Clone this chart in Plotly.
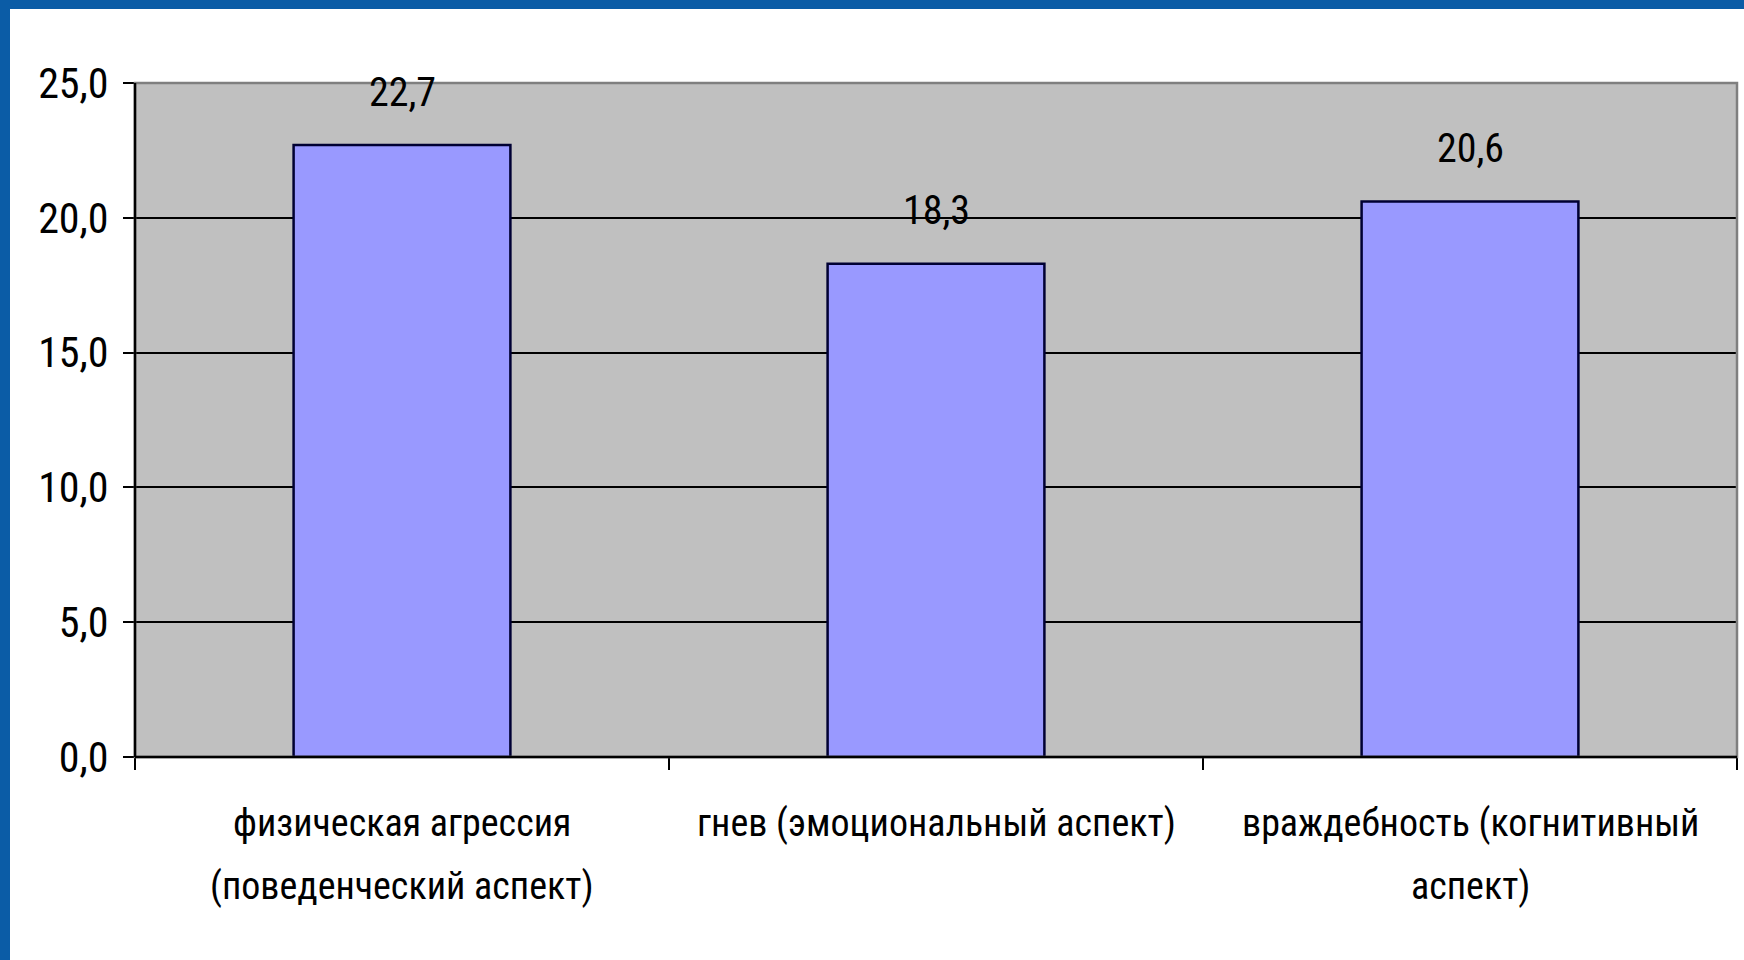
import plotly.graph_objects as go

categories = [
    "физическая агрессия\n(поведенческий аспект)",
    "гнев (эмоциональный аспект)",
    "враждебность (когнитивный\nаспект)",
]
values = [22.7, 18.3, 20.6]
value_labels = ["22,7", "18,3", "20,6"]
y_tickvals = [0, 5, 10, 15, 20, 25]
y_ticktext = ["0,0", "5,0", "10,0", "15,0", "20,0", "25,0"]

FONT = "Liberation Sans Narrow, Arial Narrow, Roboto Condensed, DejaVu Sans Condensed, sans-serif"
FS = 40

fig = go.Figure()
fig.add_trace(go.Bar(
    x=categories,
    y=values,
    marker=dict(color="#9999FF", line=dict(color="#000033", width=2.5)),
    hoverinfo="skip",
))

for c, v, t in zip(categories, values, value_labels):
    fig.add_annotation(x=c, y=v, text=t, showarrow=False, yanchor="middle",
                       yshift=53, font=dict(family=FONT, size=FS, color="#000000"))

# category labels, one annotation per line (wider line spacing as in the source)
for c in categories:
    for i, line in enumerate(c.split("\n")):
        fig.add_annotation(x=c, xref="x", y=0, yref="paper", text=line, showarrow=False,
                           yanchor="middle", yshift=-66 - 63 * i,
                           font=dict(family=FONT, size=38, color="#000000"))

W, H = 1744, 960
L, R, T, B = 135, 7, 83, 203
pw, ph = W - L - R, H - T - B

# plot-area border (grey) and axes (black)
fig.add_shape(type="rect", xref="paper", yref="paper", x0=0, x1=1, y0=0, y1=1,
              line=dict(color="#7F7F7F", width=2.5), layer="above")
fig.add_shape(type="line", xref="paper", yref="paper", x0=0, x1=0, y0=0, y1=1,
              line=dict(color="#000000", width=2.5), layer="above")
fig.add_shape(type="line", xref="paper", yref="paper", x0=0, x1=1, y0=0, y1=0,
              line=dict(color="#000000", width=2.5), layer="above")
# slide frame (blue) on top and left
fig.add_shape(type="rect", xref="paper", yref="paper",
              x0=-(L + 5) / pw, x1=(W - L + 5) / pw, y0=1 + (T - 9) / ph, y1=1 + (T + 5) / ph,
              fillcolor="#0B5CA6", line=dict(width=0), layer="below")
fig.add_shape(type="rect", xref="paper", yref="paper",
              x0=-(L + 5) / pw, x1=(10 - L) / pw, y0=-(B + 5) / ph, y1=1 + (T + 5) / ph,
              fillcolor="#0B5CA6", line=dict(width=0), layer="below")

fig.update_layout(
    width=W, height=H,
    margin=dict(l=L, r=R, t=T, b=B, autoexpand=False),
    paper_bgcolor="#FFFFFF",
    plot_bgcolor="#C0C0C0",
    bargap=0.594,
    showlegend=False,
    font=dict(family=FONT, size=FS, color="#000000"),
    xaxis=dict(
        showgrid=False, ticks="outside", tickson="boundaries", ticklen=12,
        tickcolor="#000000", tickwidth=2, showline=False, showticklabels=False,
        automargin=False,
    ),
    yaxis=dict(
        range=[0, 25], tickvals=y_tickvals, ticktext=y_ticktext,
        showgrid=True, gridcolor="#000000", gridwidth=1.5,
        ticks="outside", ticklen=11, tickcolor="#000000", tickwidth=2,
        showline=False, zeroline=False, automargin=False,
        tickfont=dict(family=FONT, size=42, color="#000000"),
        ticklabelstandoff=6,
    ),
)

fig.write_html("out.html", config={"displayModeBar": False},
               post_script="document.body.style.margin='0px';document.body.style.overflow='hidden';")
